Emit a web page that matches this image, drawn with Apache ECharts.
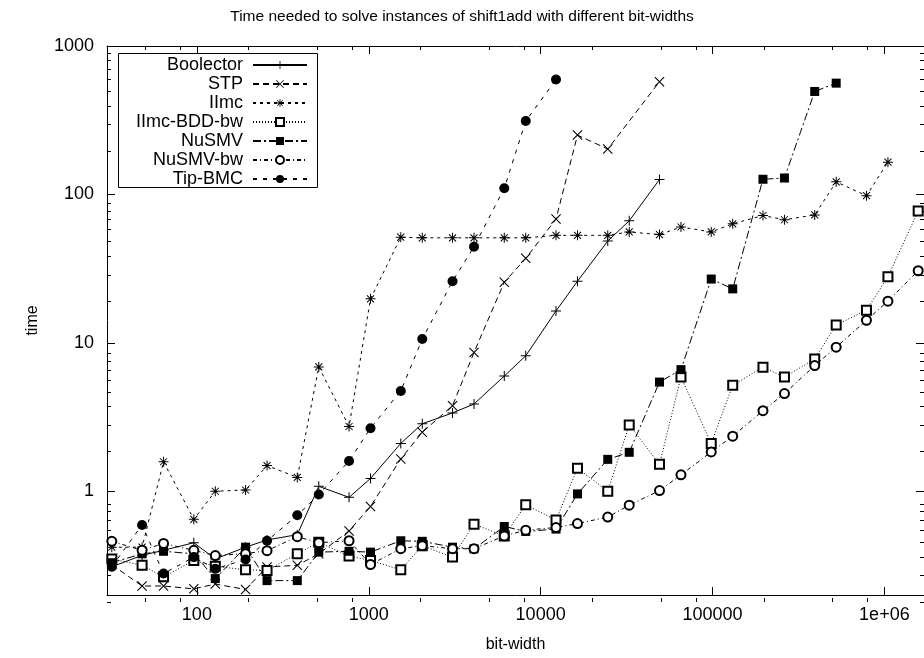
<!DOCTYPE html>
<html>
<head>
<meta charset="utf-8">
<script src="https://cdn.jsdelivr.net/npm/echarts@6/dist/echarts.min.js"></script>
<style>
html,body{margin:0;padding:0;background:#fff;}
#chart{width:924px;height:658px;}
</style>
</head>
<body>
<div id="chart"></div>
<script>
// ---- data ----
const bitWidths = [32,48,64,96,128,192,256,384,512,768,1024,1536,2048,3072,4096,6144,8192,12288,16384,24576,32768,49152,65536,98304,131072,196608,262144,393216,524288,786432,1048576,1572864];

const boolector = [0.31,0.37,0.40,0.45,0.35,0.42,0.47,0.51,1.08,0.91,1.22,2.1,2.85,3.37,3.87,5.97,8.18,16.4,26,48.5,66.4,126,null,null,null,null,null,null,null,null,null,null];
const stp = [0.32,0.23,0.23,0.22,0.237,0.218,0.309,0.317,0.379,0.54,0.79,1.65,2.5,3.77,8.62,25.6,37.1,68.2,251,202,null,575,null,null,null,null,null,null,null,null,null,null];
const iimc = [0.42,0.42,1.58,0.647,1.0,1.02,1.49,1.24,6.88,2.73,19.8,51.5,51,51,51,51,51,53,53,53,55.9,53.6,60.3,55.9,63.4,72.1,67.5,72.8,121.5,98,165,null];
const iimcBddBw = [0.35,0.317,0.265,0.342,0.312,0.296,0.293,0.379,0.453,0.366,0.342,0.296,0.43,0.36,0.6,0.5,0.81,0.64,1.43,1.0,2.8,1.52,5.88,2.1,5.17,6.85,5.88,7.78,13.2,16.6,27.9,77.4];
const nusmv = [0.33,0.379,0.394,0.379,0.258,0.42,0.25,0.25,0.389,0.394,0.389,0.464,0.46,0.42,0.409,0.579,0.536,0.556,0.96,1.64,1.83,5.44,6.6,26.9,23.1,126.5,129,494,562,null,null,null];
const nusmvBw = [0.46,0.40,0.445,0.40,0.369,0.38,0.398,0.494,0.45,0.464,0.321,0.41,0.43,0.41,0.41,0.5,0.547,0.57,0.606,0.67,0.806,1.01,1.29,1.84,2.35,3.49,4.55,7.03,9.35,14.2,19.1,30.6];
const tipBmc = [0.31,0.593,0.279,0.36,0.30,0.347,0.464,0.689,0.95,1.6,2.66,4.74,10.6,26,44.4,110,312,594,null,null,null,null,null,null,null,null,null,null,null,null,null,null];

const seriesNames = ['Boolector','STP','IImc','IImc-BDD-bw','NuSMV','NuSMV-bw','Tip-BMC'];

const xTickValues = [100,1000,10000,100000,1000000];
const xTickLabels = ['100','1000','10000','100000','1e+06'];
const xMinorTicks = [50,80,200,500,800,2000,5000,8000,20000,50000,80000,200000,500000,800000];
const yTickValues = [1,10,100,1000];
const yTickLabels = ['1','10','100','1000'];
const yMinorTicks = [0.2,0.3,0.4,0.5,0.6,0.7,0.8,0.9,2,3,4,5,6,7,8,9,20,30,40,50,60,70,80,90,200,300,400,500,600,700,800,900];

const titleText = 'Time needed to solve instances of shift1add with different bit-widths';
const xName = 'bit-width';
const yName = 'time';

// ---- styling ----
const FONT = 'Liberation Sans, Arial, Helvetica, sans-serif';
const plusPath = 'path://M-0.5,-5L0.5,-5L0.5,5L-0.5,5Z M-5,-0.5L5,-0.5L5,0.5L-5,0.5Z';
const crossPath = 'path://M-5.4,-4.6L-4.6,-5.4L5.4,4.6L4.6,5.4Z M-5.4,4.6L4.6,-5.4L5.4,-4.6L-4.6,5.4Z';
const starPath = 'path://M-0.5,-5L0.5,-5L0.5,5L-0.5,5Z M-5,-0.5L5,-0.5L5,0.5L-5,0.5Z M-3.85,-3.15L-3.15,-3.85L3.85,3.15L3.15,3.85Z M-3.85,3.15L3.15,-3.85L3.85,-3.15L-3.15,3.85Z';

const styles = [
  {symbol: plusPath, size: 10, dash: 'solid', border: 0},
  {symbol: crossPath, size: 10, dash: [6,4], border: 0},
  {symbol: starPath, size: 10, dash: [3,4], border: 0},
  {symbol: 'emptyRect', size: 9, dash: [1,2], border: 1},
  {symbol: 'rect', size: 9, dash: [8,3,2,3], border: 0},
  {symbol: 'emptyCircle', size: 9, dash: [4,3,1,3], border: 1},
  {symbol: 'circle', size: 10, dash: [4,6], border: 0}
];
const allValues = [boolector, stp, iimc, iimcBddBw, nusmv, nusmvBw, tipBmc];

function pairs(vals) {
  const out = [];
  for (let i = 0; i < bitWidths.length; i++) {
    if (vals[i] != null) out.push([bitWidths[i], vals[i]]);
  }
  return out;
}
function lookupLabel(values, labels, v) {
  for (let i = 0; i < values.length; i++) {
    if (Math.abs(Math.log10(values[i]) - Math.log10(v)) < 1e-6) return labels[i];
  }
  return '';
}

const GRID = {left: 107, top: 46, width: 824, height: 556};
const XMIN = 30, XMAX = 1.7e6, YMIN = 0.2, YMAX = 1000;

function xAx(grid, pos, major, labels) {
  return {
    type: 'log', logBase: 10, gridIndex: grid, position: pos, min: XMIN, max: XMAX,
    axisLine: {show: major, lineStyle: {color: '#000', width: 1}},
    axisTick: {show: true, inside: true, length: major ? 8 : 4, customValues: major ? xTickValues : xMinorTicks, lineStyle: {color: '#000', width: 1}},
    axisLabel: labels ? {show: true, customValues: xTickValues, showMinLabel: true, showMaxLabel: true, hideOverlap: false, color: '#000', fontSize: 18, fontFamily: FONT, margin: 11,
      formatter: v => lookupLabel(xTickValues, xTickLabels, v)} : {show: false},
    splitLine: {show: false}, minorTick: {show: false}, minorSplitLine: {show: false},
    name: labels ? xName : '', nameLocation: 'middle', nameGap: 42,
    nameTextStyle: {color: '#000', fontSize: 16, fontFamily: FONT}
  };
}
function yAx(grid, pos, major, labels) {
  return {
    type: 'log', logBase: 10, gridIndex: grid, position: pos, min: YMIN, max: YMAX,
    axisLine: {show: major, lineStyle: {color: '#000', width: 1}},
    axisTick: {show: true, inside: true, length: major ? 8 : 4, customValues: major ? yTickValues : yMinorTicks, lineStyle: {color: '#000', width: 1}},
    axisLabel: labels ? {show: true, customValues: yTickValues, showMinLabel: true, showMaxLabel: true, hideOverlap: false, color: '#000', fontSize: 18, fontFamily: FONT, margin: 13,
      formatter: v => lookupLabel(yTickValues, yTickLabels, v)} : {show: false},
    splitLine: {show: false}, minorTick: {show: false}, minorSplitLine: {show: false},
    name: labels ? yName : '', nameLocation: 'middle', nameGap: 66, nameRotate: 90,
    nameTextStyle: {color: '#000', fontSize: 16, fontFamily: FONT}
  };
}

const series = seriesNames.map((name, i) => ({
  name: name,
  type: 'line',
  xAxisIndex: 0, yAxisIndex: 0,
  data: pairs(allValues[i]),
  symbol: styles[i].symbol,
  symbolSize: styles[i].size,
  showAllSymbol: true,
  connectNulls: true,
  lineStyle: {color: '#000', width: 1, type: styles[i].dash},
  itemStyle: {color: '#000', borderColor: '#000', borderWidth: styles[i].border},
  emphasis: {disabled: true},
  z: 2 + i
}));

const chart = echarts.init(document.getElementById('chart'), null, {renderer: 'canvas'});
chart.setOption({
  animation: false,
  backgroundColor: '#fff',
  title: {
    text: titleText, left: 'center', top: 4,
    textStyle: {color: '#000', fontSize: 15.5, fontWeight: 'normal', fontFamily: FONT}
  },
  grid: [Object.assign({containLabel: false}, GRID), Object.assign({containLabel: false}, GRID)],
  xAxis: [xAx(0, 'bottom', true, true), xAx(0, 'top', true, false), xAx(1, 'bottom', false, false), xAx(1, 'top', false, false)],
  yAxis: [yAx(0, 'left', true, true), yAx(0, 'right', true, false), yAx(1, 'left', false, false), yAx(1, 'right', false, false)],
  legend: {
    orient: 'vertical', align: 'right', right: 616, top: 56,
    padding: 0, itemGap: 1, itemWidth: 54, itemHeight: 10,
    selectedMode: false,
    textStyle: {color: '#000', fontSize: 18, fontFamily: FONT, padding: [0, 5, 0, 0]},
    data: seriesNames
  },
  graphic: [{
    type: 'rect', shape: {x: 118.5, y: 53.5, width: 199, height: 134},
    style: {fill: 'none', stroke: '#000', lineWidth: 1}, z: 100
  }],
  series: series
});
</script>
</body>
</html>
